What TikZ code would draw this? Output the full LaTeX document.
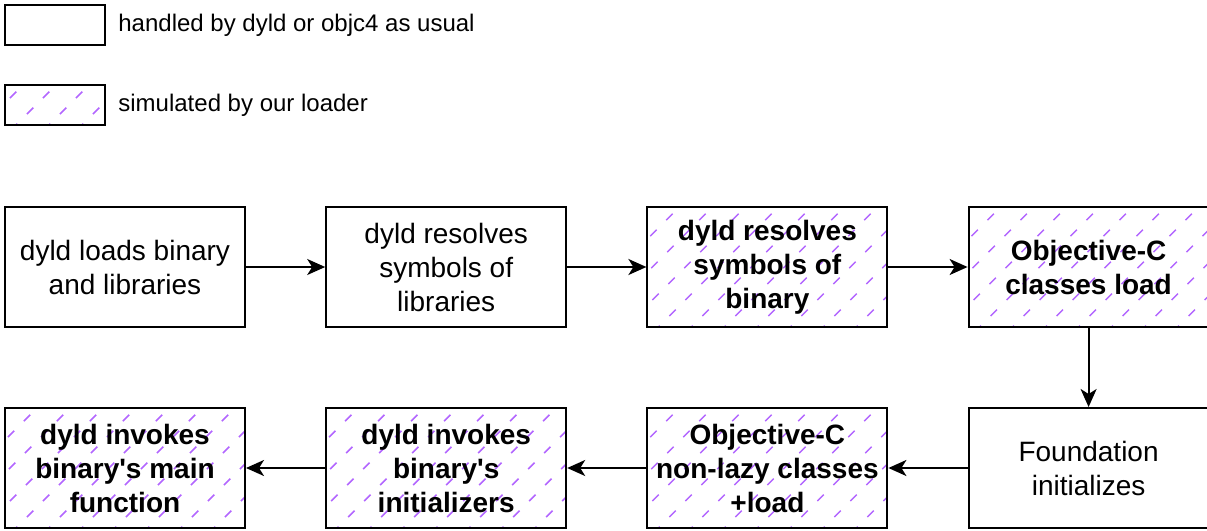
\documentclass[tikz,border=0pt]{standalone}
\usepackage{fontspec}
\setmainfont{Liberation Sans}
\usetikzlibrary{chains,positioning,arrows.meta,calc}

\definecolor{hatchpurple}{RGB}{178,102,255}

\tikzset{
  stage/.style={draw, line width=1pt, minimum width=120pt, minimum height=60pt,
    align=center, inner sep=2pt, font=\fontsize{14}{17}\selectfont},
  simulated/.style={stage, font=\fontsize{14}{17}\selectfont\bfseries,
    path picture={
      \foreach \k in {-5,...,8}
        \draw[hatchpurple, line width=0.75pt, dash pattern=on 4.5pt off 6.8pt]
          ($(path picture bounding box.south west)+(\k*33+6,5)$) -- ++(150,-150);
    }},
  keybox/.style={minimum width=50pt, minimum height=20pt},
  keytext/.style={anchor=west, inner sep=0pt, font=\fontsize{12}{14}\selectfont}
}

\begin{document}
\begin{tikzpicture}[
  x=0.5pt, y=-0.5pt,
  node distance=39.5pt and 39.6pt,
  every join/.style={-{Stealth[length=9pt,width=8pt,inset=2.5pt]}, line width=1pt}
]
  \useasboundingbox (0,0) rectangle (1207,531);

  % legend
  \node[stage, keybox] (keyplain) at (55,25) {};
  \node[keytext] (keyplaintext) at (118,25) {handled by dyld or objc4 as usual};
  \node[simulated, keybox] (keysim) at (55,105) {};
  \node[keytext] (keysimtext) at (118,105) {simulated by our loader};

  % boot sequence
  \node[stage] (loadbin) at (125,267) {dyld loads binary\\and libraries};
  \begin{scope}[start chain=boot going right]
    \chainin (loadbin);
    \node[stage, on chain, join] (resolvelibs) {dyld resolves\\symbols of\\libraries};
    \node[simulated, on chain, join] (resolvebin) {dyld resolves\\symbols of\\binary};
    \node[simulated, on chain, join] (classload) {Objective-C\\classes load};
  \end{scope}
  \begin{scope}[continue chain=boot going below]
    \node[stage, on chain, join] (foundation) {Foundation\\initializes};
  \end{scope}
  \begin{scope}[continue chain=boot going left]
    \node[simulated, on chain, join] (nonlazy) {Objective-C\\non-lazy classes\\+load};
    \node[simulated, on chain, join] (initializers) {dyld invokes\\binary\textquotesingle s\\initializers};
    \node[simulated, on chain, join] (mainfn) {dyld invokes\\binary\textquotesingle s main\\function};
  \end{scope}
\end{tikzpicture}
\end{document}
